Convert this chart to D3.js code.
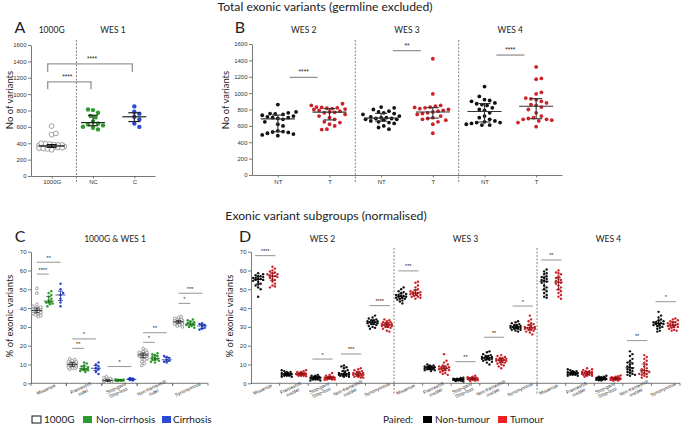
<!DOCTYPE html>
<html><head><meta charset="utf-8">
<script src="https://cdn.jsdelivr.net/npm/d3@7"></script>
<style>
body{margin:0;background:#fff;}
svg{display:block;}
</style>
</head><body>
<svg id="chart" width="682" height="426"></svg>
<script>
// ================= DATA =================
// Panel A: total exonic variants, 1000G vs WES 1
const aGroups = ["1000G", "NC", "C"];
const a1000G = [610, 520, 505, 400, 395, 390, 385, 380, 378, 375, 372, 370, 368, 365, 362, 360, 358, 355, 352, 350, 348, 345, 340, 335, 330, 320];
const aNC = [813, 805, 772, 732, 716, 663, 642, 630, 618, 602, 590, 569];
const aC = [850, 785, 760, 723, 690, 640, 600];
const aSig = [
  {from: "1000G", to: "C", y: 1370, leg: 1270, label: "****"},
  {from: "1000G", to: "NC", y: 1150, leg: 1060, label: "****"}
];

// Panel B: paired NT / T per cohort
const bCohorts = ["WES 2", "WES 3", "WES 4"];
const bStatus = ["NT", "T"];
const bWES2NT = [860, 770, 760, 750, 745, 740, 730, 720, 710, 700, 700, 690, 680, 650, 620, 600, 540, 530, 525, 520, 510, 500, 490, 480];
const bWES2T = [870, 850, 830, 825, 820, 815, 810, 805, 800, 790, 780, 770, 765, 760, 740, 720, 700, 680, 650, 640, 620, 600, 560, 555];
const bWES3NT = [830, 820, 800, 780, 770, 760, 750, 740, 720, 710, 700, 700, 690, 690, 680, 680, 670, 660, 650, 640, 630, 600, 580, 560];
const bWES3T = [1420, 990, 850, 840, 830, 825, 820, 810, 800, 790, 780, 770, 760, 750, 740, 720, 700, 690, 680, 670, 650, 620, 510];
const bWES4NT = [1080, 960, 920, 910, 900, 880, 870, 860, 850, 820, 800, 790, 760, 720, 700, 680, 660, 650, 640, 640, 630, 620, 610, 610];
const bWES4T = [1320, 1180, 1170, 1010, 990, 940, 930, 920, 900, 880, 860, 850, 830, 800, 760, 720, 700, 690, 680, 680, 670, 660, 640, 590];
const bSig = [
  {cohort: "WES 2", y: 1193, label: "****"},
  {cohort: "WES 3", y: 1518, label: "**"},
  {cohort: "WES 4", y: 1465, label: "****"}
];

// Panels C & D: subgroups (% of exonic variants)
const subgroups = ["Missense", "Frameshift indel", "Stop-gain/Stop-loss", "Non-frameshift indel", "Synonymous"];
const cLabels = [["Missense"], ["Frameshift", "indel"], ["Stop-gain/", "Stop-loss"], ["Non-frameshift", "indel"], ["Synonymous"]];
const dLabels = [["Missense"], ["Frameshift", "ins/del"], ["Stop-gain/", "Stop-loss"], ["Non-frameshift", "ins/del"], ["Synonymous"]];
const cGroups = ["1000G", "Non-cirrhosis", "Cirrhosis"];

// order: Missense, Frameshift, Stop, Non-frameshift, Synonymous
const c1000G = [
  [50.5, 48, 42, 41, 40.5, 40, 40, 39.5, 39.5, 39, 39, 38.5, 38.5, 38, 38, 37.5, 37.5, 37, 37, 36.5, 36, 35.5],
  [13, 12.5, 12, 11.5, 11.5, 11, 11, 10.5, 10.5, 10.5, 10, 10, 10, 9.5, 9.5, 9, 9, 8.5, 8.5, 8, 8, 7.5],
  [3.5, 3, 2.5, 2.2, 2, 2, 1.8, 1.8, 1.6, 1.5, 1.5, 1.4, 1.3, 1.2, 1.2, 1.1, 1, 1, 0.9, 0.8, 0.7, 0.5],
  [18.5, 17.5, 17, 16.5, 16.5, 16, 16, 15.5, 15.5, 15.5, 15, 15, 15, 14.5, 14.5, 14, 13.5, 13, 12.5, 11.5, 10.5, 9.5],
  [35.5, 35, 34.5, 34, 34, 33.5, 33.5, 33.5, 33, 33, 33, 32.5, 32.5, 32.5, 32, 32, 32, 31.5, 31.5, 31, 30.5, 30]
];
const cNonCirrhosis = [
  [49, 48, 47, 46, 45, 44, 43.5, 43, 43, 42.5, 42, 41],
  [11, 10.5, 9.5, 9, 8.5, 8, 7.5, 7.5, 7, 7, 6.5, 6],
  [2.2, 2, 1.9, 1.8, 1.7, 1.6, 1.6, 1.5, 1.5, 1.4, 1.3, 1.2],
  [16, 15.5, 15, 14.5, 14, 13.5, 13, 12.5, 12.5, 12, 11.5, 11],
  [34, 33.5, 33, 32.5, 32, 31.5, 31.5, 31, 31, 30.5, 30, 29.5]
];
const cCirrhosis = [
  [53, 50, 48, 47, 45, 43, 41],
  [11, 10, 9, 8, 7.5, 6, 5],
  [2.8, 2.5, 2.3, 2.1, 2, 1.8, 1.5],
  [14.5, 14, 13.5, 12.5, 12, 11.5, 11],
  [32, 31.5, 31, 30.5, 29.5, 29, 28.5]
];
const cSig = [
  {cat: 0, g1: 0, g2: 2, y: 64.4, label: "**"},
  {cat: 0, g1: 0, g2: 1, y: 58.1, label: "****"},
  {cat: 1, g1: 0, g2: 2, y: 23.6, label: "*"},
  {cat: 1, g1: 0, g2: 1, y: 18.6, label: "**"},
  {cat: 2, g1: 0, g2: 2, y: 8.9, label: "*"},
  {cat: 3, g1: 0, g2: 2, y: 26.9, label: "**"},
  {cat: 3, g1: 0, g2: 1, y: 21.8, label: "*"},
  {cat: 4, g1: 0, g2: 2, y: 47.9, label: "***"},
  {cat: 4, g1: 0, g2: 1, y: 42.5, label: "*"}
];

const dWES2NT = [
  [58.5, 58, 57.5, 57, 57, 56.5, 56, 56, 55.5, 55.5, 55, 55, 54.5, 54, 53, 52.5, 52, 51, 50, 46],
  [7, 6.5, 6, 6, 5.5, 5.5, 5.5, 5, 5, 5, 5, 4.5, 4.5, 4.5, 4.5, 4, 4, 4, 3.5, 3.5],
  [4.5, 4, 4, 3.5, 3.5, 3.5, 3, 3, 3, 3, 3, 2.5, 2.5, 2.5, 2.5, 2, 2, 2, 1.5, 1.5],
  [9.5, 9, 8.5, 8, 7, 6.5, 6, 5.5, 5.5, 5, 5, 5, 4.5, 4.5, 4.5, 4, 4, 4, 3.5, 3.5],
  [36, 35, 34.5, 34, 33.5, 33.5, 33, 33, 32.5, 32.5, 32.5, 32, 32, 31.5, 31.5, 31, 30.5, 30, 29.5, 29]
];
const dWES2T = [
  [62, 61, 60, 59.5, 59, 58.5, 58, 58, 57.5, 57, 57, 56.5, 56, 55.5, 55, 54, 53, 52, 51.5, 51],
  [7, 6.5, 6, 6, 5.5, 5.5, 5.5, 5, 5, 5, 5, 5, 4.5, 4.5, 4.5, 4.5, 4, 4, 4, 3.8],
  [5.5, 4.5, 4, 3.5, 3.5, 3.5, 3, 3, 3, 3, 3, 2.5, 2.5, 2.5, 2.5, 2.5, 2, 2, 2, 1.8],
  [8, 7.5, 7, 6.5, 6, 6, 5.5, 5.5, 5, 5, 5, 4.5, 4.5, 4, 4, 4, 3.5, 3.5, 3, 3],
  [34, 33.5, 33, 32.5, 32.5, 32, 32, 31.5, 31.5, 31, 31, 31, 30.5, 30.5, 30, 30, 29.5, 29, 28, 27.5]
];
const dWES3NT = [
  [51, 50, 49, 48.5, 48, 47.5, 47, 47, 46.5, 46.5, 46, 46, 45.5, 45.5, 45, 45, 44.5, 44, 43.5, 42.5],
  [10, 9.5, 9.5, 9, 9, 9, 8.5, 8.5, 8.5, 8.5, 8, 8, 8, 8, 7.5, 7.5, 7.5, 7, 7, 6.5],
  [3, 2.8, 2.5, 2.5, 2.3, 2.2, 2.2, 2, 2, 2, 2, 1.8, 1.8, 1.8, 1.6, 1.6, 1.5, 1.4, 1.2, 1],
  [17, 16.5, 15.5, 15, 14.5, 14.5, 14, 14, 13.5, 13.5, 13.5, 13, 13, 13, 12.5, 12.5, 12, 11.5, 11, 10],
  [33, 32.5, 32, 31.5, 31, 31, 30.5, 30.5, 30, 30, 30, 29.5, 29.5, 29.5, 29, 29, 28.5, 28.5, 28, 27.5]
];
const dWES3T = [
  [54, 53.5, 52, 51, 50, 49.5, 49, 48.5, 48.5, 48, 48, 47.5, 47.5, 47, 47, 46.5, 46, 46, 45.5, 45],
  [15.5, 12, 11, 10, 9.5, 9, 9, 8.5, 8.5, 8, 8, 7.5, 7.5, 7, 7, 6.5, 6, 5.5, 5, 4.5],
  [4, 3.5, 3.2, 3, 3, 2.8, 2.7, 2.5, 2.5, 2.5, 2.4, 2.3, 2.2, 2.2, 2, 2, 1.8, 1.6, 1.4, 1.2],
  [15, 14.5, 14, 13.5, 13.5, 13, 13, 12.5, 12.5, 12.5, 12, 12, 11.5, 11.5, 11, 10.5, 10, 9.5, 9, 8],
  [36, 34, 33, 32, 31.5, 31, 30.5, 30, 30, 29.5, 29.5, 29.5, 29, 29, 28.5, 28.5, 28, 27.5, 27, 26]
];
const dWES4NT = [
  [60.5, 59.5, 58.5, 58, 57, 56.5, 56, 55.5, 55, 54.5, 54, 53.5, 52, 51, 50, 49, 48, 47, 46, 45.5],
  [7.5, 7, 6.5, 6.5, 6, 6, 6, 5.5, 5.5, 5.5, 5.5, 5, 5, 5, 5, 4.5, 4.5, 4.5, 4, 4],
  [4, 3.5, 3.5, 3.2, 3, 3, 3, 2.8, 2.8, 2.5, 2.5, 2.5, 2.3, 2.2, 2.2, 2, 2, 1.8, 1.6, 1.5],
  [17, 15.5, 14.5, 13, 12, 11, 10.5, 10, 9, 8.5, 8, 7.5, 7, 6.5, 6, 5.5, 5, 4.5, 4.5, 4],
  [38, 36, 35, 34, 33.5, 33, 32.5, 32.5, 32, 32, 31.5, 31.5, 31, 31, 30.5, 30, 29.5, 29, 28, 27.5]
];
const dWES4T = [
  [60, 59, 58.5, 58, 57, 56, 55.5, 55, 54.5, 54, 53.5, 53, 52, 51, 50, 49, 48, 47, 46, 45],
  [8, 7.5, 7, 6.5, 6.5, 6, 6, 6, 5.5, 5.5, 5.5, 5, 5, 5, 4.5, 4.5, 4.5, 4, 4, 3.5],
  [4.2, 3.8, 3.5, 3.2, 3, 3, 3, 2.8, 2.6, 2.5, 2.5, 2.4, 2.2, 2.2, 2, 2, 1.8, 1.7, 1.5, 1.4],
  [15, 14, 13, 12, 11, 10, 9, 8, 7.5, 7, 6.5, 6, 6, 5.5, 5, 5, 4.5, 4, 3.5, 3],
  [34.5, 34, 33.5, 33, 32.5, 32.5, 32, 31.5, 31.5, 31, 31, 30.5, 30.5, 30, 30, 29.5, 29, 28.5, 28, 28]
];
const dSig = [
  {cohort: 0, cat: 0, y: 67.9, label: "****"},
  {cohort: 0, cat: 2, y: 12.9, label: "*"},
  {cohort: 0, cat: 3, y: 15.6, label: "***"},
  {cohort: 0, cat: 4, y: 41.3, label: "****"},
  {cohort: 1, cat: 0, y: 59.8, label: "***"},
  {cohort: 1, cat: 2, y: 11.5, label: "**"},
  {cohort: 1, cat: 3, y: 24.5, label: "**"},
  {cohort: 1, cat: 4, y: 41.1, label: "*"},
  {cohort: 2, cat: 0, y: 65.6, label: "**"},
  {cohort: 2, cat: 3, y: 22.7, label: "**"},
  {cohort: 2, cat: 4, y: 43.4, label: "*"}
];

// ================= DRAWING =================
const svg = d3.select("#chart");
const SANS = "Lato, 'Open Sans', sans-serif";
const TICKF = "'Liberation Sans', Arial, sans-serif";
const GREEN = "#2f9b2f", BLUE = "#2a49d4", RED = "#cc2228", BLACK = "#111";

// beeswarm with a maximum half-width; when crowded, points overlap
function swarm(values, yScale, minDist, maxSpread) {
  const pts = values.map(v => ({v, y: yScale(v)}));
  const med = d3.median(values);
  pts.sort((a, b) => Math.abs(a.v - med) - Math.abs(b.v - med));
  const placed = [];
  const step = minDist / 2;
  pts.forEach(p => {
    let best = 0, bestD = -1;
    for (let k = 0; k * step <= maxSpread; k++) {
      const cands = k === 0 ? [0] : [k * step, -k * step];
      let done = false;
      for (const dx of cands) {
        let dmin = Infinity;
        placed.forEach(q => { dmin = Math.min(dmin, Math.hypot(q.dx - dx, q.y - p.y)); });
        if (dmin >= minDist) { best = dx; bestD = dmin; done = true; break; }
        if (dmin > bestD) { bestD = dmin; best = dx; }
      }
      if (done) break;
    }
    p.dx = best;
    placed.push(p);
  });
  return placed;
}

function drawGroup(g, values, cx, yScale, o) {
  const pts = swarm(values, yScale, o.dist, o.spread);
  g.selectAll(null).data(pts).join("circle")
    .attr("cx", d => cx + d.dx).attr("cy", d => d.y).attr("r", o.r)
    .attr("fill", o.open ? "#fff" : o.color)
    .attr("stroke", o.open ? o.color : "none").attr("stroke-width", o.open ? 0.8 : 0);
  const s = values.slice().sort(d3.ascending);
  const med = d3.quantileSorted(s, 0.5), q1 = d3.quantileSorted(s, 0.25), q3 = d3.quantileSorted(s, 0.75);
  const bc = o.barColor || "#111";
  g.append("line").attr("x1", cx).attr("x2", cx).attr("y1", yScale(q1)).attr("y2", yScale(q3))
    .attr("stroke", bc).attr("stroke-width", o.bw);
  g.append("line").attr("x1", cx - o.mw).attr("x2", cx + o.mw).attr("y1", yScale(med)).attr("y2", yScale(med))
    .attr("stroke", bc).attr("stroke-width", o.bw);
  [q1, q3].forEach(q => g.append("line").attr("x1", cx - o.cw).attr("x2", cx + o.cw)
    .attr("y1", yScale(q)).attr("y2", yScale(q)).attr("stroke", bc).attr("stroke-width", o.bw));
}

function styleAxis(sel) {
  sel.selectAll("path,line").attr("stroke", "#555").attr("stroke-width", 0.8);
  sel.selectAll("text").attr("font-size", 6).attr("fill", "#333").attr("font-family", TICKF);
}

function txt(x, y, s, size, opts = {}) {
  const t = svg.append("text").attr("x", x).attr("y", y).text(s)
    .attr("font-size", size).attr("font-family", opts.font || SANS)
    .attr("fill", opts.fill || "#222").attr("text-anchor", opts.anchor || "middle");
  if (opts.rotate) t.attr("transform", `rotate(${opts.rotate},${x},${y})`);
  return t;
}

function dashed(x, y1, y2) {
  svg.append("line").attr("x1", x).attr("x2", x).attr("y1", y1).attr("y2", y2)
    .attr("stroke", "#666").attr("stroke-width", 0.8).attr("stroke-dasharray", "2,1.5");
}

const fmt = d3.format("d");

// Titles
txt(325, 11, "Total exonic variants (germline excluded)", 12.2);
txt(326, 220, "Exonic variant subgroups (normalised)", 12.2);

// ---------- Panel A ----------
const yA = d3.scaleLinear([0, 1600], [176, 45]);
const xA = d3.scalePoint(aGroups, [31, 155]).padding(0.5);
const gA = svg.append("g");
gA.append("g").attr("transform", "translate(31,0)")
  .call(d3.axisLeft(yA).tickValues(d3.range(0, 1601, 200)).tickFormat(fmt).tickSize(3).tickSizeOuter(0).tickPadding(1.5)).call(styleAxis);
gA.append("g").attr("transform", "translate(0,176)")
  .call(d3.axisBottom(xA).tickSize(2.5).tickSizeOuter(0).tickPadding(1.5)).call(styleAxis);
dashed(xA("1000G") + 0.6 * (xA("NC") - xA("1000G")), 40, 183);
drawGroup(gA, a1000G, xA("1000G"), yA, {r: 2.4, dist: 4.2, spread: 13, color: "#888", open: true, mw: 13, cw: 5, bw: 1.2});
drawGroup(gA, aNC, xA("NC"), yA, {r: 2.2, dist: 5, spread: 12, color: GREEN, mw: 12, cw: 5, bw: 1.2, barColor: "#222"});
drawGroup(gA, aC, xA("C"), yA, {r: 2.2, dist: 5, spread: 10, color: BLUE, mw: 12, cw: 6, bw: 1.2, barColor: "#222"});
aSig.forEach(s => {
  const x1 = xA(s.from) - 4, x2 = xA(s.to) - 2;
  gA.append("path").attr("d", `M${x1},${yA(s.leg)}V${yA(s.y)}H${x2}V${yA(s.leg)}`)
    .attr("fill", "none").attr("stroke", "#9a9a9a").attr("stroke-width", 1.4);
});
txt((xA("1000G") + xA("C")) / 2 - 1, yA(1370) - 3, aSig[0].label, 6.5, {font: TICKF});
txt((xA("1000G") + xA("NC")) / 2 - 5, yA(1150) - 3, aSig[1].label, 6.5, {font: TICKF});
txt(20, 33, "A", 16);
txt(xA("1000G"), 32.5, "1000G", 8.5);
txt(xA("NC") + 20, 32.5, "WES 1", 8.5);
txt(13, 100, "No of variants", 9.5, {rotate: -90});

// ---------- Panel B ----------
const yB = d3.scaleLinear([0, 1600], [175, 44]);
const bKeys = bCohorts.flatMap(c => bStatus.map(s => c + "|" + s));
const xB = d3.scalePoint(bKeys, [252, 562]).padding(0.5);
const xBc = d3.scaleBand(bCohorts, [252, 562]);
const gB = svg.append("g");
gB.append("g").attr("transform", "translate(252,0)")
  .call(d3.axisLeft(yB).tickValues(d3.range(0, 1601, 200)).tickFormat(fmt).tickSize(3).tickSizeOuter(0).tickPadding(1.5)).call(styleAxis);
gB.append("g").attr("transform", "translate(0,175)")
  .call(d3.axisBottom(xB).tickSize(2.5).tickSizeOuter(0).tickPadding(2).tickFormat(k => k.split("|")[1])).call(styleAxis);
bCohorts.slice(1).forEach(c => dashed(xBc(c), 40, 182));
const bData = {"WES 2|NT": bWES2NT, "WES 2|T": bWES2T, "WES 3|NT": bWES3NT, "WES 3|T": bWES3T, "WES 4|NT": bWES4NT, "WES 4|T": bWES4T};
bKeys.forEach(k => {
  const isT = k.endsWith("|T");
  drawGroup(gB, bData[k], xB(k), yB, {r: 1.9, dist: 5.2, spread: 20, color: isT ? RED : BLACK, mw: 17, cw: 6, bw: 1.1, barColor: "#333"});
});
bSig.forEach(s => {
  const mx = xBc(s.cohort) + xBc.bandwidth() / 2;
  gB.append("line").attr("x1", mx - 14).attr("x2", mx + 14).attr("y1", yB(s.y)).attr("y2", yB(s.y))
    .attr("stroke", "#666").attr("stroke-width", 0.9);
  txt(mx, yB(s.y) - 3, s.label, 6.5, {font: TICKF});
});
txt(240, 33, "B", 16);
bCohorts.forEach(c => txt(xBc(c) + xBc.bandwidth() / 2, 32.5, c, 8.5));
txt(229, 100, "No of variants", 9.5, {rotate: -90});

// ---------- helpers for C & D ----------
function subAxis(g, x0, x1, yScale) {
  g.append("g").attr("transform", `translate(${x0},0)`)
    .call(d3.axisLeft(yScale).tickValues(d3.range(0, 71, 10)).tickFormat(fmt).tickSize(3).tickSizeOuter(0).tickPadding(1.5)).call(styleAxis);
  const y0 = yScale(0);
  g.append("line").attr("x1", x0).attr("x2", x1).attr("y1", y0).attr("y2", y0).attr("stroke", "#555").attr("stroke-width", 0.8);
}
function catLabels(g, cx, y0, lines) {
  const t = g.append("text").attr("transform", `translate(${cx - 2},${y0 + 7.5}) rotate(-25)`)
    .attr("font-size", 4.8).attr("font-family", TICKF).attr("fill", "#333").attr("text-anchor", "middle");
  lines.forEach((l, i) => t.append("tspan").attr("x", 0).attr("dy", i === 0 ? (lines.length > 1 ? -1.5 : 0) : 5).text(l));
}

// ---------- Panel C ----------
const yC = d3.scaleLinear([0, 70], [383.3, 251.7]);
const xC = d3.scaleBand(subgroups, [31, 208]);
const xCg = d3.scalePoint(cGroups, [0, xC.bandwidth()]).padding(0.5);
const gC = svg.append("g");
subAxis(gC, 31, 208, yC);
subgroups.forEach((s, i) => {
  const x = xC(s);
  [x, x + xC.bandwidth()].forEach(xx => gC.append("line").attr("x1", xx).attr("x2", xx).attr("y1", yC(0)).attr("y2", yC(0) + 2.5).attr("stroke", "#555").attr("stroke-width", 0.8));
  catLabels(gC, x + xC.bandwidth() / 2, yC(0), cLabels[i]);
});
const cData = [c1000G, cNonCirrhosis, cCirrhosis];
const cStyle = [{color: "#8a8a8a", open: true, barColor: "#222", spread: 5}, {color: GREEN, barColor: "#1d6b1d", spread: 4.5}, {color: BLUE, barColor: "#1a2f99", spread: 3.5}];
subgroups.forEach((s, i) => {
  cGroups.forEach((gname, j) => {
    const st = cStyle[j];
    drawGroup(gC, cData[j][i], xC(s) + xCg(gname), yC,
      {r: st.open ? 1.4 : 1.25, dist: 2.6, spread: st.spread, color: st.color, open: st.open, mw: 5, cw: 2.5, bw: 0.8, barColor: st.barColor});
  });
});
cSig.forEach(s => {
  const base = xC(subgroups[s.cat]);
  const x1 = base + xCg(cGroups[s.g1]), x2 = base + xCg(cGroups[s.g2]);
  gC.append("line").attr("x1", x1).attr("x2", x2).attr("y1", yC(s.y)).attr("y2", yC(s.y))
    .attr("stroke", "#888").attr("stroke-width", 0.9);
  txt((x1 + x2) / 2, yC(s.y) - 2.5, s.label, 5.5, {font: TICKF});
});
txt(20, 242, "C", 16);
txt(115, 242, "1000G & WES 1", 8.5);
txt(13, 316, "% of exonic variants", 9.5, {rotate: -90});

// legend C
svg.append("rect").attr("x", 32).attr("y", 416).attr("width", 9).attr("height", 7).attr("fill", "#fff").attr("stroke", "#111").attr("stroke-width", 1);
txt(44, 423, "1000G", 10, {anchor: "start"});
svg.append("rect").attr("x", 83).attr("y", 416).attr("width", 9).attr("height", 7).attr("fill", GREEN);
txt(96, 423, "Non-cirrhosis", 10, {anchor: "start"});
svg.append("rect").attr("x", 162).attr("y", 416).attr("width", 9).attr("height", 7).attr("fill", BLUE);
txt(173, 423, "Cirrhosis", 10, {anchor: "start"});

// ---------- Panel D ----------
const dCohorts = ["WES 2", "WES 3", "WES 4"];
const yD = d3.scaleLinear([0, 70], [383.3, 251.7]);
const xDc = d3.scaleBand(dCohorts, [251, 680]);
const xDs = d3.scaleBand(subgroups, [0, xDc.bandwidth()]);
const xDp = d3.scalePoint(["NT", "T"], [0, xDs.bandwidth()]).padding(0.5);
const gD = svg.append("g");
subAxis(gD, 251, 680, yD);
dCohorts.slice(1).forEach(c => dashed(xDc(c), 248, 395));
const dData = [[dWES2NT, dWES2T], [dWES3NT, dWES3T], [dWES4NT, dWES4T]];
dCohorts.forEach((c, ci) => {
  subgroups.forEach((s, si) => {
    const base = xDc(c) + xDs(s);
    gD.append("line").attr("x1", base + xDs.bandwidth()).attr("x2", base + xDs.bandwidth())
      .attr("y1", yD(0)).attr("y2", yD(0) + 2.5).attr("stroke", "#555").attr("stroke-width", 0.8);
    catLabels(gD, base + xDs.bandwidth() / 2, yD(0), dLabels[si]);
    ["NT", "T"].forEach((p, pi) => {
      drawGroup(gD, dData[ci][pi][si], base + xDp(p), yD,
        {r: 1.2, dist: 2.5, spread: 5, color: pi ? RED : BLACK, mw: 4.5, cw: 2.5, bw: 0.8, barColor: pi ? "#7a1010" : "#000"});
    });
  });
  txt(xDc(c) + xDc.bandwidth() / 2, 242, c, 8.5);
});
dSig.forEach(s => {
  const base = xDc(dCohorts[s.cohort]) + xDs(subgroups[s.cat]);
  const x1 = base + xDp("NT") - 3, x2 = base + xDp("T") + 3;
  gD.append("line").attr("x1", x1).attr("x2", x2).attr("y1", yD(s.y)).attr("y2", yD(s.y))
    .attr("stroke", "#888").attr("stroke-width", 0.9);
  txt((x1 + x2) / 2, yD(s.y) - 2.5, s.label, 5.5, {font: TICKF});
});
txt(245, 242, "D", 16);
txt(233, 316, "% of exonic variants", 9.5, {rotate: -90});

// legend D
txt(383, 423, "Paired:", 10, {anchor: "start"});
svg.append("rect").attr("x", 423).attr("y", 416).attr("width", 9).attr("height", 7).attr("fill", "#000");
txt(435, 423, "Non-tumour", 10, {anchor: "start"});
svg.append("rect").attr("x", 498).attr("y", 416).attr("width", 9).attr("height", 7).attr("fill", "#ee2020");
txt(510, 423, "Tumour", 10, {anchor: "start"});
</script>
</body></html>
